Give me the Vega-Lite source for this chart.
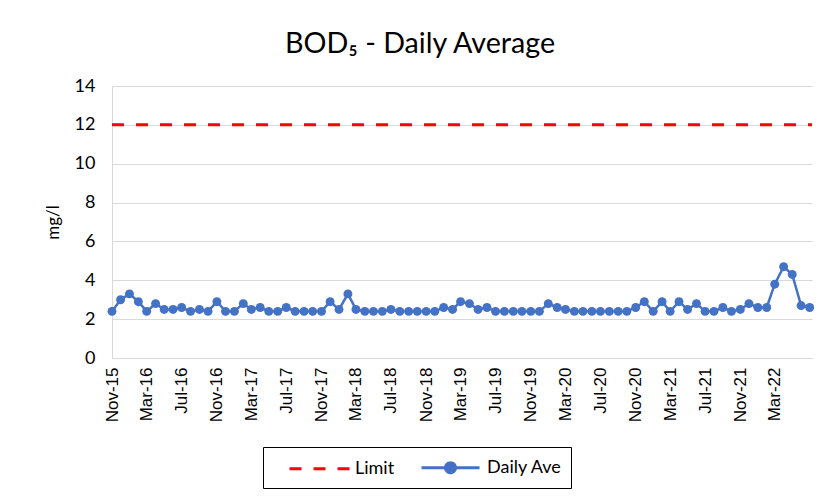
{
  "$schema": "https://vega.github.io/schema/vega-lite/v6.json",
  "width": 700,
  "height": 272,
  "autosize": "none",
  "padding": {"left": 112, "top": 86, "right": 14, "bottom": 142},
  "background": "white",
  "config": {
    "view": {"stroke": null},
    "axisY": {
      "titleFont": "Lato",
      "titleFontSize": 17,
      "titleFontWeight": "normal",
      "titleColor": "#000000",
      "titlePadding": 12,
      "labelFont": "Lato",
      "labelFontSize": 18,
      "labelColor": "#000000",
      "labelPadding": 17,
      "ticks": false,
      "grid": true,
      "gridColor": "#d9d9d9",
      "gridWidth": 1,
      "domainColor": "#d9d9d9",
      "tickCount": 7
    },
    "axisX": {
      "labelAngle": 270,
      "labelAlign": "right",
      "labelBaseline": "middle",
      "labelFont": "Liberation Sans",
      "labelFontSize": 17,
      "labelColor": "#000000",
      "labelPadding": 9,
      "labelOverlap": false,
      "labelFlush": false,
      "ticks": false,
      "grid": false,
      "domainColor": "#d9d9d9",
      "domainWidth": 1
    }
  },
  "title": {
    "text": "BOD₅ - Daily Average",
    "font": "Lato",
    "fontSize": 28.7,
    "fontWeight": "normal",
    "color": "#000000",
    "anchor": "middle",
    "dx": -42,
    "offset": -5,
    "baseline": "alphabetic"
  },
  "datasets": {
    "bod": [
      {"date": "2015-11-01", "value": 2.4},
      {"date": "2015-12-01", "value": 3.0},
      {"date": "2016-01-01", "value": 3.3},
      {"date": "2016-02-01", "value": 2.9},
      {"date": "2016-03-01", "value": 2.4},
      {"date": "2016-04-01", "value": 2.8},
      {"date": "2016-05-01", "value": 2.5},
      {"date": "2016-06-01", "value": 2.5},
      {"date": "2016-07-01", "value": 2.6},
      {"date": "2016-08-01", "value": 2.4},
      {"date": "2016-09-01", "value": 2.5},
      {"date": "2016-10-01", "value": 2.4},
      {"date": "2016-11-01", "value": 2.9},
      {"date": "2016-12-01", "value": 2.4},
      {"date": "2017-01-01", "value": 2.4},
      {"date": "2017-02-01", "value": 2.8},
      {"date": "2017-03-01", "value": 2.5},
      {"date": "2017-04-01", "value": 2.6},
      {"date": "2017-05-01", "value": 2.4},
      {"date": "2017-06-01", "value": 2.4},
      {"date": "2017-07-01", "value": 2.6},
      {"date": "2017-08-01", "value": 2.4},
      {"date": "2017-09-01", "value": 2.4},
      {"date": "2017-10-01", "value": 2.4},
      {"date": "2017-11-01", "value": 2.4},
      {"date": "2017-12-01", "value": 2.9},
      {"date": "2018-01-01", "value": 2.5},
      {"date": "2018-02-01", "value": 3.3},
      {"date": "2018-03-01", "value": 2.5},
      {"date": "2018-04-01", "value": 2.4},
      {"date": "2018-05-01", "value": 2.4},
      {"date": "2018-06-01", "value": 2.4},
      {"date": "2018-07-01", "value": 2.5},
      {"date": "2018-08-01", "value": 2.4},
      {"date": "2018-09-01", "value": 2.4},
      {"date": "2018-10-01", "value": 2.4},
      {"date": "2018-11-01", "value": 2.4},
      {"date": "2018-12-01", "value": 2.4},
      {"date": "2019-01-01", "value": 2.6},
      {"date": "2019-02-01", "value": 2.5},
      {"date": "2019-03-01", "value": 2.9},
      {"date": "2019-04-01", "value": 2.8},
      {"date": "2019-05-01", "value": 2.5},
      {"date": "2019-06-01", "value": 2.6},
      {"date": "2019-07-01", "value": 2.4},
      {"date": "2019-08-01", "value": 2.4},
      {"date": "2019-09-01", "value": 2.4},
      {"date": "2019-10-01", "value": 2.4},
      {"date": "2019-11-01", "value": 2.4},
      {"date": "2019-12-01", "value": 2.4},
      {"date": "2020-01-01", "value": 2.8},
      {"date": "2020-02-01", "value": 2.6},
      {"date": "2020-03-01", "value": 2.5},
      {"date": "2020-04-01", "value": 2.4},
      {"date": "2020-05-01", "value": 2.4},
      {"date": "2020-06-01", "value": 2.4},
      {"date": "2020-07-01", "value": 2.4},
      {"date": "2020-08-01", "value": 2.4},
      {"date": "2020-09-01", "value": 2.4},
      {"date": "2020-10-01", "value": 2.4},
      {"date": "2020-11-01", "value": 2.6},
      {"date": "2020-12-01", "value": 2.9},
      {"date": "2021-01-01", "value": 2.4},
      {"date": "2021-02-01", "value": 2.9},
      {"date": "2021-03-01", "value": 2.4},
      {"date": "2021-04-01", "value": 2.9},
      {"date": "2021-05-01", "value": 2.5},
      {"date": "2021-06-01", "value": 2.8},
      {"date": "2021-07-01", "value": 2.4},
      {"date": "2021-08-01", "value": 2.4},
      {"date": "2021-09-01", "value": 2.6},
      {"date": "2021-10-01", "value": 2.4},
      {"date": "2021-11-01", "value": 2.5},
      {"date": "2021-12-01", "value": 2.8},
      {"date": "2022-01-01", "value": 2.6},
      {"date": "2022-02-01", "value": 2.6},
      {"date": "2022-03-01", "value": 3.8},
      {"date": "2022-04-01", "value": 4.7},
      {"date": "2022-05-01", "value": 4.3},
      {"date": "2022-06-01", "value": 2.7},
      {"date": "2022-07-01", "value": 2.6}
    ],
    "limit": [
      {"date": "2015-11-01", "value": 12, "series": "Limit"},
      {"date": "2022-07-09", "value": 12, "series": "Limit"}
    ]
  },
  "encoding": {
    "x": {
      "field": "date",
      "type": "temporal",
      "scale": {"type": "utc", "domain": [{"year": 2015, "month": 11, "date": 1, "utc": true}, {"year": 2022, "month": 7, "date": 9, "utc": true}]},
      "axis": {
        "title": null,
        "labelOverlap": false,
        "labelExpr": "utcFormat(datum.value, '%b-%y')",
        "values": [
          {"year": 2015, "month": 11, "date": 1, "utc": true},
          {"year": 2016, "month": 3, "date": 1, "utc": true},
          {"year": 2016, "month": 7, "date": 1, "utc": true},
          {"year": 2016, "month": 11, "date": 1, "utc": true},
          {"year": 2017, "month": 3, "date": 1, "utc": true},
          {"year": 2017, "month": 7, "date": 1, "utc": true},
          {"year": 2017, "month": 11, "date": 1, "utc": true},
          {"year": 2018, "month": 3, "date": 1, "utc": true},
          {"year": 2018, "month": 7, "date": 1, "utc": true},
          {"year": 2018, "month": 11, "date": 1, "utc": true},
          {"year": 2019, "month": 3, "date": 1, "utc": true},
          {"year": 2019, "month": 7, "date": 1, "utc": true},
          {"year": 2019, "month": 11, "date": 1, "utc": true},
          {"year": 2020, "month": 3, "date": 1, "utc": true},
          {"year": 2020, "month": 7, "date": 1, "utc": true},
          {"year": 2020, "month": 11, "date": 1, "utc": true},
          {"year": 2021, "month": 3, "date": 1, "utc": true},
          {"year": 2021, "month": 7, "date": 1, "utc": true},
          {"year": 2021, "month": 11, "date": 1, "utc": true},
          {"year": 2022, "month": 3, "date": 1, "utc": true}
        ]
      }
    },
    "y": {
      "field": "value",
      "type": "quantitative",
      "scale": {"domain": [0, 14]},
      "axis": {"title": "mg/l"}
    }
  },
  "layer": [
    {
      "data": {"name": "limit"},
      "mark": {"type": "line", "strokeDash": [12, 12], "strokeWidth": 3},
      "encoding": {
        "color": {
          "field": "series",
          "type": "nominal",
          "scale": {"domain": ["Limit", "Daily Ave"], "range": ["#ff0000", "#4472c4"]},
          "legend": {
            "title": null,
            "orient": "none",
            "legendX": 151,
            "legendY": 361,
            "direction": "horizontal",
            "strokeColor": "#000000",
            "fillColor": "#ffffff",
            "padding": 9,
            "labelFont": "Lato",
            "labelFontSize": 18,
            "labelColor": "#000000",
            "symbolSize": 400,
            "symbolStrokeWidth": 3,
            "symbolOffset": 16,
            "labelOffset": 44,
            "columnPadding": 9,
            "encode": {
              "symbols": {
                "update": {
                  "shape": {"signal": "datum.value === 'Daily Ave' ? 'M-1,0H4.8M2.4,0A0.5,0.5 0 1,1 1.4,0A0.5,0.5 0 1,1 2.4,0Z' : 'M-1,0H5.2'"},
                  "strokeDash": {"signal": "datum.value === 'Limit' ? [12,12] : [1,0]"},
                  "fill": {"signal": "datum.value === 'Daily Ave' ? '#4472c4' : 'transparent'"}
                }
              }
            }
          }
        }
      }
    },
    {
      "data": {"name": "bod"},
      "mark": {"type": "line", "strokeWidth": 2.5},
      "encoding": {
        "color": {"datum": "Daily Ave", "type": "nominal"}
      }
    },
    {
      "data": {"name": "bod"},
      "mark": {"type": "point", "filled": true, "size": 80, "opacity": 1},
      "encoding": {
        "color": {"datum": "Daily Ave", "type": "nominal"}
      }
    }
  ]
}
